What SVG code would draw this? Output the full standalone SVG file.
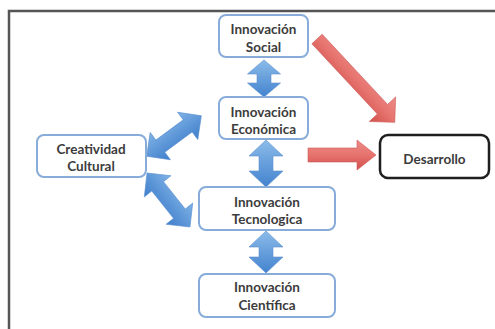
<svg xmlns="http://www.w3.org/2000/svg" width="495" height="329" viewBox="0 0 495 329">
  <defs>
    <linearGradient id="gBlue" x1="0" y1="0" x2="0" y2="1">
      <stop offset="0" stop-color="#8bbbe9"/>
      <stop offset="1" stop-color="#4383cf"/>
    </linearGradient>
    <linearGradient id="gBlueD" x1="0" y1="0" x2="0" y2="1">
      <stop offset="0" stop-color="#7fb2e6"/>
      <stop offset="1" stop-color="#3f7ecb"/>
    </linearGradient>
    <linearGradient id="gRed" x1="0" y1="0" x2="0" y2="1">
      <stop offset="0" stop-color="#ee8b86"/>
      <stop offset="0.5" stop-color="#e6736e"/>
      <stop offset="1" stop-color="#d24f4b"/>
    </linearGradient>
    <style>
      .box { fill: #ffffff; stroke: #88acd9; stroke-width: 2; }
      .box-dark { fill: #ffffff; stroke: #1f1f1f; stroke-width: 2.5; }
      .lbl { font-family: Lato, "Liberation Sans", sans-serif; font-size: 13.5px; font-weight: bold; fill: #3c3c3c; text-anchor: middle; }
      .blue { fill: url(#gBlue); stroke: #5a8fcf; stroke-width: 0.6; }
      .blued { fill: url(#gBlueD); stroke: #5a8fcf; stroke-width: 0.6; }
      .red { fill: url(#gRed); stroke: #cc5d59; stroke-width: 0.6; }
      .frame { fill: none; stroke: #555555; stroke-width: 2.5; }
    </style>
  </defs>
  <rect x="0" y="0" width="495" height="329" fill="#ffffff"/>
  <path class="frame" d="M9,329 V11 H495"/>

  <g id="connectors">
    <polygon class="blue" points="264,60 280.5,74 271,74 271,83 280.5,83 264,97 247.5,83 257,83 257,74 247.5,74"/>
    <polygon class="blue" points="266,140 283,156 273,156 273,171 283,171 266,187 249,171 259,171 259,156 249,156"/>
    <polygon class="blue" points="266,231 283,247 273,247 273,257 283,257 266,273 249,257 259,257 259,247 249,247"/>
    <polygon class="blued" transform="translate(174,136) rotate(-36.5)" points="-34,0 -17,-17 -17,-7.5 17,-7.5 17,-17 34,0 17,17 17,7.5 -17,7.5 -17,17"/>
    <polygon class="blued" transform="translate(168.5,200) rotate(51.5)" points="-34.5,0 -17.5,-17 -17.5,-7.5 17.5,-7.5 17.5,-17 34.5,0 17.5,17 17.5,7.5 -17.5,7.5 -17.5,17"/>
    <polygon class="red" transform="translate(317,39) rotate(47)" points="0,-7 96,-7 96,-18 114,0 96,18 96,7 0,7"/>
    <polygon class="red" points="308,148 357,148 357,140 376,155 357,170 357,162 308,162"/>
  </g>

  <g id="social">
    <rect class="box" x="219" y="15" width="89" height="42" rx="7"/>
    <text class="lbl" x="263.5" y="34">Innovación</text>
    <text class="lbl" x="263.5" y="52">Social</text>
  </g>
  <g id="economica">
    <rect class="box" x="219" y="97" width="89" height="42" rx="7"/>
    <text class="lbl" x="263.5" y="116.5">Innovación</text>
    <text class="lbl" x="263.5" y="133.5">Económica</text>
  </g>
  <g id="creatividad">
    <rect class="box" x="37" y="135" width="109" height="42" rx="7"/>
    <text class="lbl" x="91" y="154">Creatividad</text>
    <text class="lbl" x="91" y="171">Cultural</text>
  </g>
  <g id="tecnologica">
    <rect class="box" x="199" y="187" width="136" height="43" rx="7"/>
    <text class="lbl" x="267" y="207">Innovación</text>
    <text class="lbl" x="267" y="224">Tecnologica</text>
  </g>
  <g id="cientifica">
    <rect class="box" x="199" y="274" width="136" height="43" rx="7"/>
    <text class="lbl" x="267" y="292">Innovación</text>
    <text class="lbl" x="267" y="310">Científica</text>
  </g>
  <g id="desarrollo">
    <rect class="box-dark" x="380" y="135" width="109" height="43" rx="8"/>
    <text class="lbl" x="434.5" y="164">Desarrollo</text>
  </g>
</svg>
